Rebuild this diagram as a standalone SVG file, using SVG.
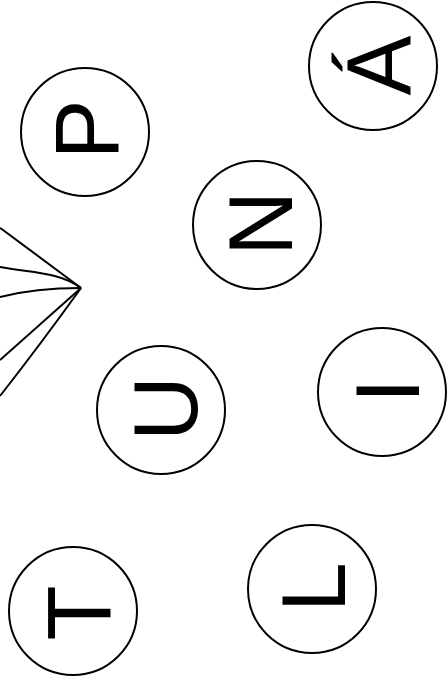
<svg xmlns="http://www.w3.org/2000/svg" width="447" height="684" viewBox="0 0 447 684">
<style>
.node circle{fill:#fff;stroke:#000;stroke-width:2}
.node text{font-family:"Liberation Sans",Arial,sans-serif;font-size:90px;fill:#000;text-anchor:middle}
.edges path{fill:none;stroke:#000;stroke-width:2}
</style>
<rect width="447" height="684" fill="#fff"/>
<g class="edges" id="edges">
<path d="M0,227.7 L81,288"/>
<path d="M0,267 C30,273 59,271.7 81,288"/>
<path d="M0,297 Q35,288 81,288"/>
<path d="M0,360 L81,288"/>
<path d="M0,396 Q40,345 81,288"/>
</g>
<g class="node" id="node-P"><circle cx="85" cy="132" r="64"/><text transform="translate(118,129.6) rotate(-90)">P</text></g>
<g class="node" id="node-A"><circle cx="373" cy="66" r="64"/><text transform="translate(410,65.5) rotate(-90)">Á</text></g>
<g class="node" id="node-N"><circle cx="257" cy="225" r="64"/><text transform="translate(292,223.5) rotate(-90)">N</text></g>
<g class="node" id="node-U"><circle cx="161" cy="410" r="64"/><text transform="translate(197,408.5) rotate(-90)">U</text></g>
<g class="node" id="node-I"><circle cx="382" cy="392" r="64"/><text transform="translate(419,390.7) rotate(-90)">I</text></g>
<g class="node" id="node-T"><circle cx="73" cy="611" r="64"/><text transform="translate(111,612.9) rotate(-90)">T</text></g>
<g class="node" id="node-L"><circle cx="312" cy="589" r="64"/><text transform="translate(345,587.3) rotate(-90)">L</text></g>
</svg>
